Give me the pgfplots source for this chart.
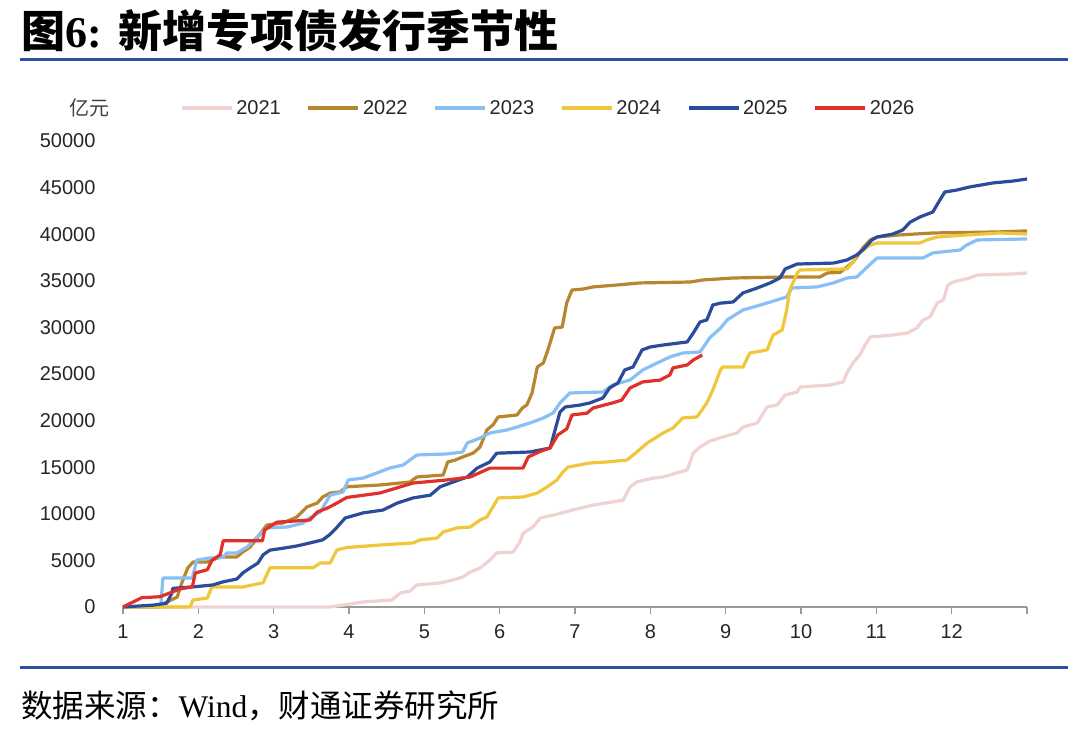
\documentclass[border=0pt]{standalone}
\usepackage{fontspec}
\setmainfont{Liberation Sans}
\newfontfamily\cjk{Noto Sans CJK SC}
\newfontfamily\serif{Liberation Serif}
\usepackage{pgfplots}
\pgfplotsset{compat=1.18}
\definecolor{c21}{HTML}{F0D2D2}
\definecolor{c22}{HTML}{B8862F}
\definecolor{c23}{HTML}{88C0F5}
\definecolor{c24}{HTML}{F0C63A}
\definecolor{c25}{HTML}{2B4C9B}
\definecolor{c26}{HTML}{E0302A}
\definecolor{tblue}{HTML}{2F4F9F}
\begin{document}
\begin{tikzpicture}
\useasboundingbox (0,0) rectangle (1080pt,735pt);
\fill[white] (0,0) rectangle (1080pt,735pt);
\node[anchor=west,inner sep=0pt] at (21pt,704pt) {\fontsize{44}{48}\selectfont{\cjk\bfseries 图}{\serif\bfseries 6:} {\cjk\bfseries 新增专项债发行季节性}};
\draw[tblue, line width=3pt] (20pt,675pt) -- (1068pt,675pt);
\draw[tblue, line width=3pt] (20pt,67pt) -- (1068pt,67pt);
\node[anchor=west,inner sep=0pt] at (21pt,29pt) {\fontsize{31.5}{34}\selectfont{\cjk 数据来源：}{\serif Wind}{\cjk ，财通证券研究所}};
\node[inner sep=0pt] at (89pt,627pt) {\fontsize{20}{24}\selectfont\cjk\color{black!75} 亿元};
\begin{axis}[
  at={(123pt,128pt)}, anchor=south west,
  scale only axis, width=904pt, height=466pt,
  xmin=1, xmax=13, ymin=0, ymax=50000,
  axis x line*=bottom, axis y line*=left,
  x axis line style={draw=black!40, line width=1.5pt, -},
  y axis line style={draw=none},
  xtick={1,2,3,4,5,6,7,8,9,10,11,12,13},
  xticklabels={1,2,3,4,5,6,7,8,9,10,11,12,{}},
  ytick={0,5000,10000,15000,20000,25000,30000,35000,40000,45000,50000},
  tick align=outside, major tick length=7pt,
  xtick style={draw=black!40, line width=1.2pt},
  ytick style={draw=none},
  scaled y ticks=false,
  /pgf/number format/1000 sep={},
  /pgf/number format/assume math mode=true,
  tick label style={font=\fontsize{20}{24}\selectfont, text=black!85},
  yticklabel style={xshift=-17pt},
  xticklabel style={yshift=-7pt},
  legend columns=6,
  legend style={at={(0.0630,1.0708)}, anchor=west, draw=none, fill=none, inner sep=0pt,
    font=\fontsize{20}{24}\selectfont, nodes={inner sep=3pt, text=black!85},
    /tikz/every even column/.append style={column sep=23pt}},
  legend image code/.code={\draw[#1, line width=3.2pt] (0pt,0pt) -- (50pt,0pt);},
  every axis plot/.append style={line width=3.2pt, line join=round},
  clip=false,
]
\addplot[c21] coordinates {(1,0) (3.75,0) (4.19,540) (4.57,750) (4.68,1500) (4.81,1700) (4.90,2360) (5.21,2580) (5.38,2900) (5.51,3220) (5.61,3760) (5.74,4180) (5.87,5040) (5.96,5800) (6.18,5900) (6.27,7000) (6.31,7900) (6.44,8580) (6.54,9550) (6.76,9950) (6.97,10410) (7.24,10940) (7.50,11270) (7.64,11480) (7.73,12880) (7.82,13410) (8.04,13840) (8.17,13950) (8.35,14380) (8.49,14700) (8.57,16520) (8.66,17170) (8.79,17800) (8.96,18240) (9.15,18670) (9.23,19310) (9.42,19740) (9.55,21460) (9.68,21670) (9.79,22750) (9.95,23070) (9.99,23610) (10.39,23820) (10.56,24150) (10.61,25110) (10.69,26180) (10.78,27040) (10.85,28110) (10.92,28970) (11.22,29180) (11.41,29400) (11.54,29940) (11.62,30800) (11.71,31120) (11.81,32620) (11.89,32940) (11.95,34550) (12.02,34870) (12.24,35300) (12.34,35620) (12.81,35730) (13.0,35840)};
\addlegendentry{2021}
\addplot[c22] coordinates {(1,0) (1.45,0) (1.72,1070) (1.78,2580) (1.86,4200) (1.93,4830) (2.12,4830) (2.29,5370) (2.51,5370) (2.59,5900) (2.69,6440) (2.78,7400) (2.91,8800) (3.12,9000) (3.31,9660) (3.44,10730) (3.58,11160) (3.65,11800) (3.75,12230) (3.88,12340) (3.97,12900) (4.41,13090) (4.81,13410) (4.90,13950) (5.25,14160) (5.31,15560) (5.41,15770) (5.51,16100) (5.65,16520) (5.74,17170) (5.83,19000) (5.91,19530) (5.98,20390) (6.23,20600) (6.30,21350) (6.36,21670) (6.43,22960) (6.50,25750) (6.58,26180) (6.64,27580) (6.73,29940) (6.83,30040) (6.89,32620) (6.96,34010) (7.11,34120) (7.24,34340) (7.56,34550) (7.86,34770) (8.53,34870) (8.70,35090) (9.10,35300) (9.72,35400) (10.25,35400) (10.35,35840) (10.52,35900) (10.61,36480) (10.69,37020) (10.76,37770) (10.82,38520) (10.92,39380) (11.01,39700) (11.31,39920) (11.75,40130) (12.60,40240) (13.0,40350)};
\addlegendentry{2022}
\addplot[c23] coordinates {(1,0) (1.50,0) (1.53,3110) (1.92,3110) (1.98,5040) (2.15,5260) (2.32,5300) (2.38,5800) (2.51,5800) (2.65,6440) (2.78,7500) (2.91,8480) (3.18,8580) (3.39,9000) (3.48,9550) (3.62,10200) (3.75,12000) (3.92,12340) (3.99,13630) (4.19,13840) (4.37,14380) (4.54,14910) (4.72,15240) (4.90,16310) (5.30,16420) (5.51,16630) (5.57,17600) (5.74,18130) (5.87,18670) (6.10,19000) (6.23,19310) (6.40,19740) (6.58,20280) (6.71,20820) (6.80,21890) (6.93,22960) (7.37,23070) (7.50,23820) (7.73,24360) (7.90,25430) (8.09,26180) (8.26,26830) (8.43,27250) (8.66,27360) (8.79,28900) (8.93,29900) (9.02,30800) (9.23,31870) (9.46,32400) (9.68,32940) (9.81,33260) (9.88,34230) (10.21,34340) (10.43,34770) (10.61,35300) (10.74,35410) (10.88,36480) (11.01,37450) (11.62,37450) (11.75,37990) (12.11,38300) (12.20,38840) (12.34,39380) (13.0,39490)};
\addlegendentry{2023}
\addplot[c24] coordinates {(1,0) (1.89,0) (1.93,750) (2.12,960) (2.18,2150) (2.59,2150) (2.86,2600) (2.95,4200) (3.52,4200) (3.62,4720) (3.75,4720) (3.84,6120) (3.97,6380) (4.41,6650) (4.85,6870) (4.94,7190) (5.17,7400) (5.25,8050) (5.43,8480) (5.61,8580) (5.74,9330) (5.83,9660) (5.91,10730) (5.98,11700) (6.31,11800) (6.50,12230) (6.63,12880) (6.76,13630) (6.84,14490) (6.91,15020) (7.20,15450) (7.42,15560) (7.69,15770) (7.82,16630) (7.96,17600) (8.17,18670) (8.30,19200) (8.43,20280) (8.62,20390) (8.75,21890) (8.83,23280) (8.93,25430) (8.96,25750) (9.23,25750) (9.32,27250) (9.55,27580) (9.63,29180) (9.75,29720) (9.81,31870) (9.85,34000) (9.95,35840) (9.99,36160) (10.61,36270) (10.68,36910) (10.74,37770) (10.82,38300) (10.92,38840) (11.01,39060) (11.58,39060) (11.67,39380) (11.81,39700) (12.20,39920) (12.64,40130) (13.0,40020)};
\addlegendentry{2024}
\addplot[c25] coordinates {(1,0) (1.40,200) (1.58,400) (1.65,1500) (1.66,2000) (1.92,2150) (2.19,2360) (2.33,2700) (2.51,3000) (2.59,3650) (2.69,4200) (2.79,4700) (2.86,5600) (2.95,6100) (3.12,6300) (3.31,6550) (3.48,6870) (3.65,7200) (3.75,7800) (3.84,8550) (3.95,9550) (4.19,10100) (4.45,10400) (4.64,11150) (4.85,11700) (5.08,12000) (5.21,12900) (5.38,13400) (5.57,13950) (5.70,14900) (5.87,15560) (5.96,16500) (6.40,16630) (6.67,17060) (6.80,20900) (6.87,21460) (7.07,21670) (7.20,21900) (7.37,22430) (7.46,23500) (7.57,24040) (7.66,25430) (7.77,25750) (7.89,27580) (8.00,27900) (8.17,28110) (8.49,28440) (8.57,29400) (8.66,30580) (8.75,30800) (8.83,32400) (8.93,32600) (9.10,32730) (9.23,33700) (9.42,34230) (9.59,34770) (9.72,35300) (9.79,36270) (9.95,36800) (10.43,36900) (10.61,37230) (10.74,37770) (10.82,38300) (10.94,39380) (11.01,39700) (11.22,40020) (11.35,40450) (11.45,41300) (11.58,41850) (11.75,42380) (11.82,43350) (11.91,44530) (12.07,44740) (12.24,45070) (12.55,45500) (12.81,45700) (13.0,45920)};
\addlegendentry{2025}
\addplot[c26] coordinates {(1,0) (1.25,1000) (1.49,1100) (1.62,1500) (1.76,1950) (1.92,2150) (1.96,3650) (2.12,4000) (2.18,5000) (2.29,5600) (2.33,7100) (2.85,7100) (2.88,8260) (3.04,9100) (3.48,9330) (3.58,10200) (3.71,10600) (3.84,11150) (3.97,11750) (4.41,12230) (4.85,13300) (5.30,13630) (5.61,13950) (5.87,14900) (6.31,14900) (6.38,16100) (6.54,16700) (6.67,17060) (6.77,18450) (6.89,19100) (6.96,20600) (7.16,20800) (7.24,21350) (7.50,21900) (7.62,22200) (7.73,23500) (7.90,24150) (8.13,24350) (8.26,24900) (8.30,25650) (8.49,25970) (8.57,26500) (8.69,27040)};
\addlegendentry{2026}
\end{axis}
\end{tikzpicture}
\end{document}
